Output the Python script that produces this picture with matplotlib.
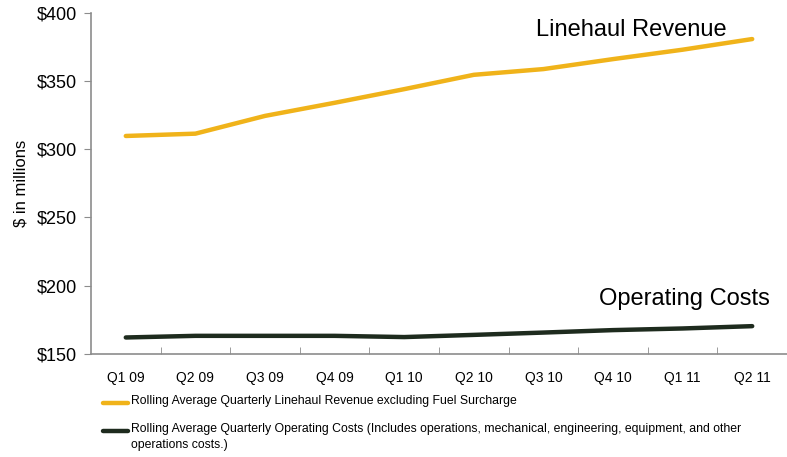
import matplotlib
matplotlib.use("Agg")
import matplotlib.pyplot as plt
from matplotlib.lines import Line2D

plt.rcParams['font.family'] = ['Liberation Sans', 'DejaVu Sans']

quarters = ["Q1 09", "Q2 09", "Q3 09", "Q4 09", "Q1 10",
            "Q2 10", "Q3 10", "Q4 10", "Q1 11", "Q2 11"]
# rolling average quarterly figures, $ millions
linehaul_revenue = [309.7, 311.4, 324.4, 334.0, 344.0,
                    354.5, 358.7, 366.0, 372.9, 380.7]
operating_costs = [162.1, 163.3, 163.3, 163.3, 162.4,
                   164.0, 165.7, 167.5, 168.7, 170.4]
revenue_label = "Rolling Average Quarterly Linehaul Revenue excluding Fuel Surcharge"
costs_label = ("Rolling Average Quarterly Operating Costs (Includes operations, mechanical, "
               "engineering, equipment, and other\noperations costs.)")

gold = "#F0B31A"
dark = "#1E2B1E"
grey = "#8C8C8C"

fig = plt.figure(figsize=(7.87, 4.57), dpi=100)
ax = fig.add_axes([91 / 787, 103 / 457, 696 / 787, 341.3 / 457])

x = range(len(quarters))
ax.plot(x, linehaul_revenue, color=gold, lw=3.2, solid_capstyle='round')
ax.plot(x, operating_costs, color=dark, lw=3.2, solid_capstyle='round')

ax.set_xlim(-0.5, len(quarters) - 0.5)
ax.set_ylim(150, 400)
ax.set_yticks(range(150, 401, 50))
ax.set_yticklabels(["$%d" % v for v in range(150, 401, 50)], fontsize=13)
ax.set_xticks(list(x))
ax.set_xticklabels(quarters, fontsize=10)
ax.tick_params(axis='x', length=0, pad=12)
ax.set_xticks([i - 0.5 for i in range(1, len(quarters) + 1)], minor=True)
ax.tick_params(axis='x', which='minor', length=5, color=grey, direction='in')
ax.tick_params(axis='y', length=5, color=grey, pad=5)

for side in ['top', 'right']:
    ax.spines[side].set_visible(False)
for side in ['left', 'bottom']:
    ax.spines[side].set_color(grey)
    ax.spines[side].set_linewidth(1.2)

ax.set_ylabel("$ in millions", fontsize=12, labelpad=6)

ax.text(0.777, 0.948, "Linehaul Revenue", transform=ax.transAxes,
        fontsize=17, ha='center', va='center')
ax.text(0.853, 0.162, "Operating Costs", transform=ax.transAxes,
        fontsize=17, ha='center', va='center')

# legend drawn by hand below the axes
for y_px, color, label in [(403, gold, revenue_label), (431, dark, costs_label)]:
    y = 1 - y_px / 457
    fig.add_artist(Line2D([103 / 787, 128 / 787], [y, y], color=color, lw=3.2,
                          solid_capstyle='round', transform=fig.transFigure))
    fig.text(131 / 787, y + 8 / 457, label, fontsize=8.8, ha='left', va='top',
             linespacing=1.4)

fig.savefig("out.png", dpi=100)
